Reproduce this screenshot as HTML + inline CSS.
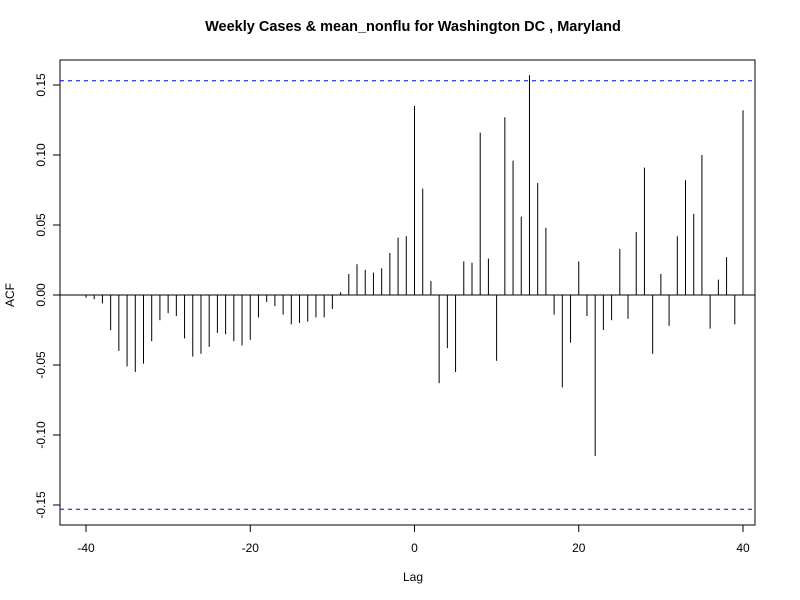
<!DOCTYPE html>
<html><head><meta charset="utf-8"><style>
html,body{margin:0;padding:0;background:#fff;}
svg{display:block;font-family:"Liberation Sans",Arial,sans-serif;}
</style></head><body>
<svg id="chart" width="800" height="600">
<text x="413" y="31" text-anchor="middle" font-size="14.5" font-weight="bold">Weekly Cases &amp; mean_nonflu for Washington DC , Maryland</text>
<text x="413" y="581" text-anchor="middle" font-size="12">Lag</text>
<text transform="translate(14,295) rotate(-90)" text-anchor="middle" font-size="12">ACF</text>
<rect x="60" y="60" width="695" height="465" fill="none" stroke="#000"/>
<g id="marks"></g>
</svg>
<script>
const lags=[];for(let i=-40;i<=40;i++)lags.push(i);
const acfValues=[-0.002,-0.003,-0.006,-0.025,-0.040,-0.051,-0.055,-0.049,-0.033,-0.018,-0.013,-0.015,-0.031,-0.044,-0.042,-0.037,-0.027,-0.028,-0.033,-0.036,-0.032,-0.016,-0.005,-0.008,-0.014,-0.021,-0.020,-0.019,-0.016,-0.016,-0.010,0.002,0.015,0.022,0.018,0.016,0.019,0.030,0.041,0.042,0.135,0.076,0.010,-0.063,-0.038,-0.055,0.024,0.023,0.116,0.026,-0.047,0.127,0.096,0.056,0.157,0.080,0.048,-0.014,-0.066,-0.034,0.024,-0.015,-0.115,-0.025,-0.018,0.033,-0.017,0.045,0.091,-0.042,0.015,-0.022,0.042,0.082,0.058,0.100,-0.024,0.011,0.027,-0.021,0.132];
const confLimit=0.153;
const xTicks=[-40,-20,0,20,40];
const yTicks=[-0.15,-0.10,-0.05,0.00,0.05,0.10,0.15];
const yTickLabels=["-0.15","-0.10","-0.05","0.00","0.05","0.10","0.15"];
const NS="http://www.w3.org/2000/svg";
const sx=v=>414.5+v*8.2125;
const sy=v=>295-v*1400;
const g=document.getElementById('marks');
function mk(tag,attrs){const e=document.createElementNS(NS,tag);for(const k in attrs)e.setAttribute(k,attrs[k]);g.appendChild(e);return e;}
let e=mk('line',{x1:60,x2:755,y1:sy(0),y2:sy(0),stroke:'#000'});


[confLimit,-confLimit].forEach(c=>{
 const l=mk('line',{x1:60,x2:755,y1:sy(c),y2:sy(c),stroke:'#0000ff','stroke-dasharray':'4,4'});
 
 
});
lags.forEach((lag,i)=>{
 const l=mk('line',{x1:sx(lag),x2:sx(lag),y1:sy(0),y2:sy(acfValues[i]),stroke:'#000'});
 
 
});
mk('line',{x1:sx(-40),x2:sx(40),y1:525,y2:525,stroke:'#000'});
xTicks.forEach(t=>{
 mk('line',{x1:sx(t),x2:sx(t),y1:525,y2:532,stroke:'#000'});
 const tx=mk('text',{x:sx(t),y:552,'text-anchor':'middle','font-size':12});
 tx.textContent=t;
 
 
});
mk('line',{x1:60,x2:60,y1:sy(0.15),y2:sy(-0.15),stroke:'#000'});
yTicks.forEach((t,i)=>{
 mk('line',{x1:53,x2:60,y1:sy(t),y2:sy(t),stroke:'#000'});
 const tx=mk('text',{transform:`translate(45,${sy(t)}) rotate(-90)`,'text-anchor':'middle','font-size':12});
 tx.textContent=yTickLabels[i];
 
 
});
</script>
</body></html>
